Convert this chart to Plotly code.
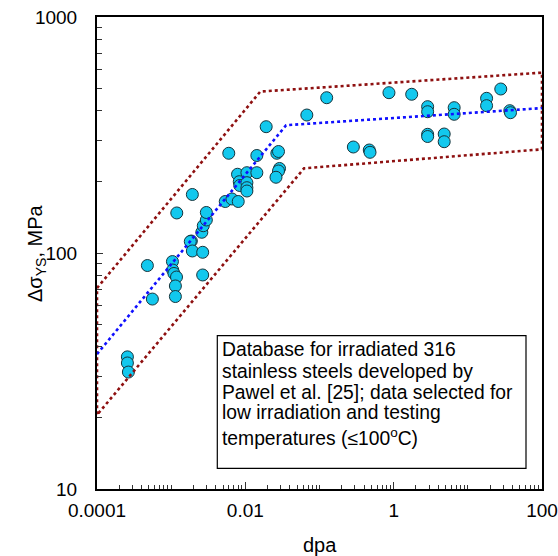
import plotly.graph_objects as go

# ---------------- data ----------------
dpa = [2.57e-4, 2.57e-4, 2.65e-4, 4.78e-4, 5.58e-4,
       1.04e-3, 1.05e-3, 1.09e-3, 1.18e-3, 1.14e-3, 1.14e-3,
       1.87e-3, 1.81e-3, 1.93e-3, 2.66e-3, 2.66e-3, 2.59e-3, 2.71e-3,
       2.98e-3, 2.98e-3, 1.19e-3, 1.93e-3, 5.36e-3, 6.60e-3, 8.02e-3,
       5.98e-3, 7.85e-3, 0.0105, 0.0143, 8.28e-3, 8.41e-3, 0.0105,
       0.0105, 0.0105, 0.0143, 0.0191, 0.0266, 0.0280, 0.0289, 0.0280,
       0.0259, 0.0675, 0.125, 0.286, 0.469, 0.480, 0.864, 1.75,
       2.87, 2.87, 2.87, 2.87, 4.80, 4.80, 6.54, 6.54,
       17.9, 17.9, 27.8, 36.8, 37.6]
stress = [36.3, 34.2, 31.3, 88.5, 63.8,
          92.0, 84.7, 81.9, 79.1, 72.5, 65.4,
          112.4, 111.9, 102.0, 100.7, 80.7, 122.4, 130.5,
          138.0, 148.5, 147.8, 177.0, 165.3, 169.4, 165.3,
          264.6, 215.6, 218.9, 218.9, 200.5, 193.2, 198.6,
          189.1, 183.1, 258.9, 342.9, 264.6, 269.2, 228.1, 222.6,
          209.4, 384.3, 455.0, 281.3, 273.2, 267.1, 477.8, 470.5,
          416.9, 396.9, 318.4, 311.6, 319.3, 296.2, 412.9, 387.0,
          452.4, 421.0, 495.3, 400.9, 393.1]

fit_dpa = [1e-4, 0.0355, 100]
fit_stress = [37.3, 348.0, 411.0]

band_dpa = [1e-4, 0.0159, 100, 100, 0.062, 1e-4, 1e-4]
band_stress = [71.0, 483.0, 581.0, 275.0, 228.5, 20.6, 71.0]

x_tick_vals = [1e-4, 1e-2, 1, 100]
x_tick_text = ["0.0001", "0.01", "1", "100"]
y_tick_vals = [10, 100, 1000]
y_tick_text = ["10", "100", "1000"]

note_lines = ["Database for irradiated 316",
              "stainless steels developed by",
              "Pawel et al. [25]; data selected for",
              "low irradiation and testing",
              "temperatures (\u2264100<sup>o</sup>C)"]

x_title = "dpa"
y_title = "\u0394\u03c3<sub>YS</sub>, MPa"

FONT = "Liberation Sans, Arial, Helvetica, sans-serif"

x_minor = [m * 10.0 ** e for e in range(-4, 2) for m in range(2, 11) if m * 10.0 ** e < 99]
y_minor = [m * 10.0 ** e for e in range(1, 3) for m in range(2, 10)]

fig = go.Figure()

fig.add_trace(go.Scatter(
    x=dpa, y=stress, mode="markers",
    marker=dict(size=12, color="#12C8EE", line=dict(color="#16343C", width=1)),
    showlegend=False, cliponaxis=False))

fig.add_trace(go.Scatter(
    x=band_dpa, y=band_stress, mode="lines",
    line=dict(color="#8E1010", width=2.6, dash="dot"),
    showlegend=False))

fig.add_trace(go.Scatter(
    x=fit_dpa, y=fit_stress, mode="lines",
    line=dict(color="#1010FF", width=2.6, dash="dot"),
    showlegend=False))

L, R, T, B = 97, 16, 17, 67
W, H = 558, 556
pw, ph = W - L - R, H - T - B

def px_x(p):
    return (p - L) / pw

def px_y(p):
    return (H - B - p) / ph

# note box
fig.add_shape(type="rect", xref="paper", yref="paper",
              x0=px_x(217.3), x1=px_x(526), y0=px_y(468.3), y1=px_y(335.7),
              line=dict(color="black", width=1.2), fillcolor="white", layer="below")

line_centers = [349.5, 371, 392, 412, 437]
for txt, yc in zip(note_lines, line_centers):
    fig.add_annotation(text=txt, xref="paper", yref="paper",
                       x=px_x(220), y=px_y(yc), xanchor="left", yanchor="middle",
                       showarrow=False, font=dict(family=FONT, size=19.3, color="black"))

# axis titles
fig.add_annotation(text=y_title, xref="paper", yref="paper",
                   x=px_x(36), y=px_y(253), xanchor="center", yanchor="middle",
                   textangle=-90, showarrow=False,
                   font=dict(family=FONT, size=20, color="black"))
fig.add_annotation(text=x_title, xref="paper", yref="paper",
                   x=px_x(320), y=px_y(545), xanchor="center", yanchor="middle",
                   showarrow=False,
                   font=dict(family=FONT, size=20, color="black"))

fig.update_xaxes(
    type="log", range=[-4, 2],
    tickmode="array", tickvals=x_tick_vals, ticktext=x_tick_text,
    ticks="inside", ticklen=7, tickwidth=1, tickcolor="#333",
    minor=dict(tickmode="array", tickvals=x_minor, ticks="inside", ticklen=4,
               tickwidth=1, tickcolor="#333", showgrid=False),
    showgrid=False, zeroline=False,
    showline=True, linecolor="black", linewidth=2, mirror=True,
    ticklabelstandoff=3,
    tickfont=dict(family=FONT, size=19, color="black"),
)
fig.update_yaxes(
    type="log", range=[1, 3],
    tickmode="array", tickvals=y_tick_vals, ticktext=y_tick_text,
    ticks="inside", ticklen=6, tickwidth=1, tickcolor="#333",
    minor=dict(tickmode="array", tickvals=y_minor, ticks="inside", ticklen=5,
               tickwidth=1, tickcolor="#333", showgrid=False),
    showgrid=False, zeroline=False,
    showline=True, linecolor="black", linewidth=2, mirror=True,
    ticklabelstandoff=14,
    tickfont=dict(family=FONT, size=19, color="black"),
)

fig.update_layout(
    width=W, height=H,
    margin=dict(l=L, r=R, t=T, b=B, autoexpand=False),
    plot_bgcolor="white", paper_bgcolor="white",
    font=dict(family=FONT, size=19, color="black"),
)

fig.write_html("out.html")
